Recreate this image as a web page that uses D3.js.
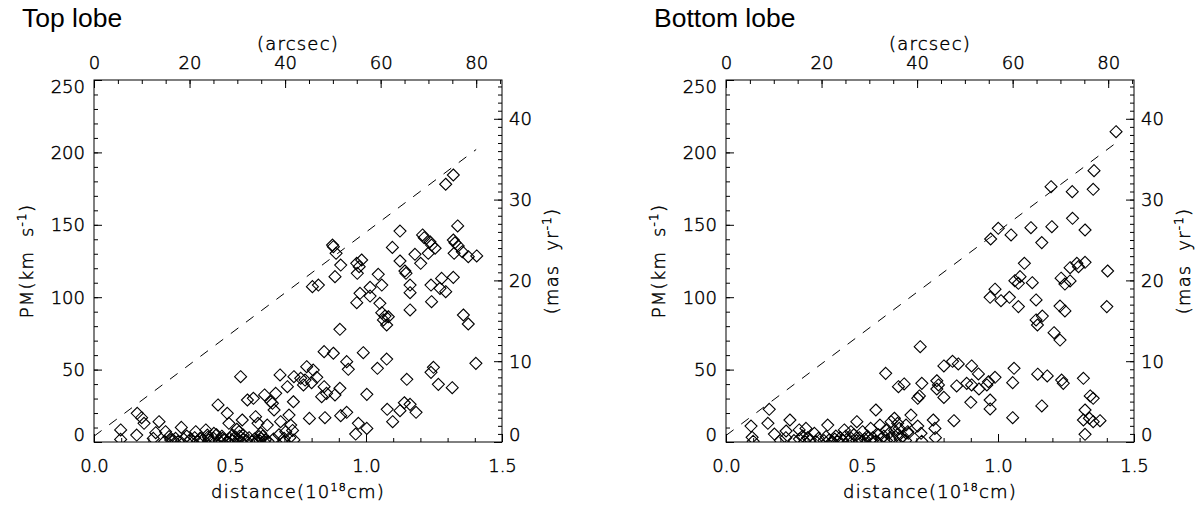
<!DOCTYPE html>
<html><head><meta charset="utf-8">
<script src="https://cdn.jsdelivr.net/npm/d3@7"></script>
<style>
html,body{margin:0;padding:0;background:#fff;}
svg{display:block;}
.tk text{font-family:"DejaVu Sans",sans-serif;font-weight:200;font-size:18px;fill:#000;stroke:#000;stroke-width:0.45px;}
.tk line{stroke:#000;stroke-width:1;}
.lab{font-family:"DejaVu Sans",sans-serif;font-weight:200;font-size:18px;fill:#000;stroke:#000;stroke-width:0.45px;letter-spacing:1.2px;}
.ttl{font-family:"Liberation Sans",Arial,sans-serif;font-size:26.5px;fill:#000;}
</style></head><body>
<svg id="c" width="1198" height="506"></svg>
<script>
// ---------- data ----------
const panelTitles = ["Top lobe", "Bottom lobe"];
const distTicks = [0.0, 0.5, 1.0, 1.5];
const pmTicks = [0, 50, 100, 150, 200, 250];
const arcsecTicks = [0, 20, 40, 60, 80];
const masTicks = [0, 10, 20, 30, 40];
const arcsecAtMaxDist = 85.4;   // arcsec corresponding to 1.5e18 cm
const masAtMaxPM = 44.8;        // mas/yr corresponding to 250 km/s

const topLobeLine = [[0.0, 4.0], [1.405, 202]];
const bottomLobeLine = [[0.0, 4.5], [1.43, 206]];

const topLobePoints = [
[1.321,184.4],[1.293,178.0],[1.337,149.2],[1.125,145.7],[1.208,143.0],[1.214,141.1],[1.235,138.3],[1.241,136.0],[1.254,133.8],[1.321,139.5],
[1.327,137.6],[1.339,135.4],[1.354,131.4],[1.324,130.3],[1.376,128.0],[1.407,128.5],[1.229,130.3],[1.180,129.6],[1.097,134.4],[0.877,136.0],
[0.880,134.9],[0.890,130.3],[0.907,122.2],[0.886,114.2],[0.966,123.4],[0.984,125.7],[0.975,121.1],[0.968,116.5],[1.045,115.8],[1.125,125.0],
[1.143,118.1],[1.147,116.5],[1.201,123.4],[0.803,107.3],[0.825,108.4],[1.015,106.8],[1.058,108.4],[0.978,102.7],[1.015,100.8],[0.966,96.2],
[1.051,95.8],[1.058,89.3],[1.070,87.0],[1.082,86.5],[1.064,84.3],[1.076,80.8],[1.162,108.4],[1.162,103.1],[1.162,91.2],[1.239,108.4],
[1.278,113.0],[1.321,113.7],[1.272,106.1],[1.293,103.8],[1.241,96.9],[1.358,87.7],[1.376,81.5],[0.904,77.8],[0.846,62.4],[0.880,61.3],
[0.990,61.7],[1.076,57.3],[0.929,55.5],[0.935,50.2],[1.042,50.9],[0.782,52.0],[0.806,49.7],[0.819,44.7],[0.776,42.8],[0.800,41.0],
[0.770,39.4],[1.248,51.6],[1.239,48.1],[1.404,54.3],[1.150,43.3],[1.266,39.8],[1.317,37.5],[0.846,38.2],[0.855,33.6],[0.837,31.3],
[0.886,32.5],[0.904,37.1],[1.003,32.9],[0.792,16.3],[0.849,16.8],[0.907,18.2],[0.929,20.5],[0.972,12.9],[0.962,5.5],[1.003,9.4],
[1.078,22.6],[1.098,14.0],[1.125,21.6],[1.141,27.1],[1.162,26.0],[1.184,20.5],
[0.098,8.3],[0.098,1.8],[0.157,4.8],[0.159,19.8],[0.175,16.8],[0.184,12.9],[0.227,6.4],[0.239,14.0],[0.218,2.5],[0.263,7.1],
[0.276,3.7],[0.282,1.4],[0.300,2.5],[0.321,10.1],[0.341,4.1],[0.355,1.8],[0.374,7.1],[0.390,2.5],[0.411,8.3],[0.417,4.8],
[0.423,1.4],[0.441,6.0],[0.456,25.6],[0.472,2.5],[0.490,19.8],[0.496,12.9],[0.509,4.8],[0.525,8.8],[0.533,7.1],[0.539,45.1],
[0.545,15.2],[0.549,4.8],[0.564,29.0],[0.586,30.2],[0.594,17.5],[0.603,12.9],[0.607,3.7],[0.613,6.0],[0.627,32.5],[0.637,11.7],
[0.650,27.8],[0.656,26.7],[0.662,22.1],[0.668,33.6],[0.684,46.3],[0.686,14.0],[0.705,7.1],[0.711,38.2],[0.717,18.6],[0.723,11.7],
[0.733,27.8],[0.735,45.1],[0.699,2.5],[0.735,1.4],[0.760,44.0],
[0.26,0.5],[0.29,1.5],[0.31,0.5],[0.33,2],[0.35,0.8],[0.37,3],[0.38,0.5],[0.40,1.5],[0.42,3.5],[0.43,0.8],
[0.44,2.5],[0.45,5],[0.46,1],[0.47,4],[0.48,1.5],[0.49,0.5],[0.50,2.5],[0.51,1],[0.52,3.5],[0.53,1.5],
[0.535,4],[0.54,0.5],[0.55,2],[0.56,1],[0.57,3],[0.58,0.5],[0.59,2],[0.60,1],[0.61,0.8],[0.615,2.5],
[0.62,4],[0.63,1.5],[0.64,0.5],[0.66,2],[0.68,5],[0.70,0.5],[0.72,3],[0.73,8]
];

const bottomLobePoints = [
[1.434,214.3],[1.353,187.4],[1.350,174.5],[1.273,172.9],[1.195,176.3],[1.274,154.5],[1.320,146.4],[1.198,148.7],[1.121,148.0],[1.161,137.7],
[1.001,147.6],[0.973,140.2],[1.048,143.0],[1.097,123.4],[1.403,118.1],[1.265,120.4],[1.290,123.4],[1.296,121.1],[1.320,124.1],[1.232,113.1],
[1.246,109.1],[1.265,111.2],[1.081,114.2],[1.062,111.4],[1.075,109.6],[1.126,110.0],[0.989,105.5],[0.971,99.9],[1.011,97.6],[1.042,99.9],
[1.075,93.5],[1.140,98.1],[1.228,93.9],[1.246,90.5],[1.400,93.5],[1.163,87.0],[1.140,84.3],[1.145,80.8],[1.206,75.5],[1.228,70.4],
[0.801,52.5],[0.833,55.7],[0.854,53.9],[0.903,52.5],[0.928,47.0],[1.059,50.9],[0.989,44.7],[0.965,41.6],[0.959,39.4],[0.775,42.3],
[0.781,39.4],[0.775,36.6],[0.848,38.7],[0.885,40.5],[0.903,39.4],[0.930,36.6],[1.054,41.0],[1.146,46.8],[1.181,45.6],[1.234,42.8],
[1.240,40.5],[1.314,44.0],[0.801,30.8],[0.900,27.4],[0.971,29.0],[0.971,22.8],[1.161,24.9],[1.339,31.8],[1.350,30.2],[1.320,22.1],
[1.314,15.2],[1.336,16.4],[1.350,14.0],[1.375,14.7],[1.320,5.3],[1.054,16.8],[0.838,14.7],[0.762,15.2],[0.768,9.4],
[0.092,11.0],[0.096,3.2],[0.159,22.6],[0.154,12.9],[0.178,5.5],[0.235,15.2],[0.221,7.6],[0.269,8.3],[0.294,9.4],[0.282,4.1],
[0.325,6.0],[0.374,11.7],[0.368,3.7],[0.404,4.1],[0.435,8.3],[0.459,7.1],[0.481,14.0],[0.502,7.1],[0.532,9.4],[0.551,22.1],
[0.566,11.7],[0.588,8.3],[0.607,14.0],[0.619,16.4],[0.631,12.9],[0.637,9.4],[0.662,11.7],[0.668,7.1],[0.680,18.6],[0.705,11.0],
[0.717,6.0],[0.714,65.8],[0.587,47.4],[0.634,38.2],[0.655,40.1],[0.720,40.5],[0.711,31.8],[0.705,30.2],
[0.10,0.5],[0.20,1],[0.22,3],[0.25,1],[0.27,2],[0.29,0.5],[0.30,3],[0.31,1.5],[0.33,0.5],[0.34,2.5],
[0.36,1],[0.38,1.5],[0.39,0.5],[0.40,2],[0.41,0.5],[0.42,3],[0.43,1],[0.44,4],[0.45,0.8],[0.46,2.5],
[0.47,5],[0.48,1],[0.49,3],[0.50,0.5],[0.51,2],[0.52,4],[0.53,1],[0.54,3],[0.55,0.5],[0.56,5],
[0.57,2],[0.58,4],[0.59,1],[0.60,6],[0.61,3],[0.62,8],[0.63,5],[0.64,2],[0.65,4],[0.66,1],
[0.67,6],[0.77,3],[0.72,0.5]
];

// ---------- drawing ----------
const svg = d3.select("#c");
const PW = 408, TOP = 80, BOT = 442;
const panels = [
  {title: panelTitles[0], x0: 94, pts: topLobePoints, line: topLobeLine},
  {title: panelTitles[1], x0: 726, pts: bottomLobePoints, line: bottomLobeLine}
];

panels.forEach((p, i) => {
  const g = svg.append("g");
  const x = d3.scaleLinear().domain([0, 1.5]).range([p.x0, p.x0 + PW]);
  const y = d3.scaleLinear().domain([0, 250]).range([BOT, TOP]);
  const xa = d3.scaleLinear().domain([0, arcsecAtMaxDist]).range([p.x0, p.x0 + PW]);
  const ym = d3.scaleLinear().domain([0, masAtMaxPM]).range([BOT, TOP]);

  const clipId = "clip" + i;
  svg.append("clipPath").attr("id", clipId).append("rect")
    .attr("x", p.x0).attr("y", TOP).attr("width", PW).attr("height", BOT - TOP);

  // minor ticks
  const minor = (axis, pos) => {
    const ax = g.append("g").attr("class", "tk").attr("transform", pos).call(axis);
    ax.select(".domain").remove();
    ax.selectAll("text").remove();
  };
  minor(d3.axisBottom(x).tickValues(d3.range(0, 1.5001, 0.1)).tickSizeInner(-4).tickSizeOuter(0), `translate(0,${BOT})`);
  minor(d3.axisTop(xa).tickValues(d3.range(0, arcsecAtMaxDist, 5)).tickSizeInner(-4).tickSizeOuter(0), `translate(0,${TOP})`);
  minor(d3.axisLeft(y).tickValues(d3.range(0, 250.1, 10)).tickSizeInner(-4).tickSizeOuter(0), `translate(${p.x0},0)`);
  minor(d3.axisRight(ym).tickValues(d3.range(0, masAtMaxPM, 1)).tickSizeInner(-4).tickSizeOuter(0), `translate(${p.x0 + PW},0)`);

  // major axes
  const bx = g.append("g").attr("class", "tk").attr("transform", `translate(0,${BOT})`)
    .call(d3.axisBottom(x).tickValues(distTicks).tickFormat(d3.format(".1f")).tickSizeInner(-8).tickSizeOuter(0));
  bx.select(".domain").remove();
  bx.selectAll("text").attr("y", 30).attr("dy", 0);

  const tx = g.append("g").attr("class", "tk").attr("transform", `translate(0,${TOP})`)
    .call(d3.axisTop(xa).tickValues(arcsecTicks).tickFormat(d3.format("d")).tickSizeInner(-8).tickSizeOuter(0));
  tx.select(".domain").remove();
  tx.selectAll("text").attr("y", -11).attr("dy", 0);

  const ly = g.append("g").attr("class", "tk").attr("transform", `translate(${p.x0},0)`)
    .call(d3.axisLeft(y).tickValues(pmTicks).tickFormat(d3.format("d")).tickSizeInner(-8).tickSizeOuter(0));
  ly.select(".domain").remove();
  ly.selectAll("text").attr("x", -9).attr("dy", d => d === 0 ? "-0.08em" : (d === 250 ? "0.72em" : "0.34em"));

  const ry = g.append("g").attr("class", "tk").attr("transform", `translate(${p.x0 + PW},0)`)
    .call(d3.axisRight(ym).tickValues(masTicks).tickFormat(d3.format("d")).tickSizeInner(-8).tickSizeOuter(0));
  ry.select(".domain").remove();
  ry.selectAll("text").attr("x", 7).attr("dy", d => d === 0 ? "-0.08em" : "0.34em");

  // frame
  g.append("rect").attr("x", p.x0).attr("y", TOP).attr("width", PW).attr("height", BOT - TOP)
    .attr("fill", "none").attr("stroke", "#000").attr("stroke-width", 1);

  // dashed line
  g.append("path").attr("clip-path", `url(#${clipId})`)
    .attr("d", d3.line().x(d => x(d[0])).y(d => y(d[1]))(p.line))
    .attr("fill", "none").attr("stroke", "#000").attr("stroke-width", 1)
    .attr("stroke-dasharray", "9.5,9.5");

  // diamonds
  const diamond = "M0,-6L6,0L0,6L-6,0Z";
  g.append("g").attr("clip-path", `url(#${clipId})`)
    .selectAll("path").data(p.pts).join("path")
    .attr("d", diamond)
    .attr("transform", d => `translate(${x(d[0])},${y(d[1])})`)
    .attr("fill", "none").attr("stroke", "#000").attr("stroke-width", 1.1);

  // titles & labels
  g.append("text").attr("class", "ttl").attr("x", p.x0 - 72).attr("y", 27).text(p.title);

  g.append("text").attr("class", "lab").attr("x", p.x0 + PW / 2).attr("y", 50)
    .attr("text-anchor", "middle").text("(arcsec)");

  const bl = g.append("text").attr("class", "lab").attr("x", p.x0 + PW / 2).attr("y", 498)
    .attr("text-anchor", "middle");
  bl.append("tspan").text("distance(10");
  bl.append("tspan").attr("font-size", "11px").attr("dy", -7).text("18");
  bl.append("tspan").attr("dy", 7).text("cm)");

  const yl = g.append("text").attr("class", "lab")
    .attr("transform", `translate(${p.x0 - 61},${(TOP + BOT) / 2}) rotate(-90)`)
    .attr("text-anchor", "middle");
  yl.append("tspan").text("PM(km\u00a0\u00a0s");
  yl.append("tspan").attr("font-size", "12px").attr("dy", -7).text("-1");
  yl.append("tspan").attr("dy", 7).text(")");

  const rl = g.append("text").attr("class", "lab")
    .attr("transform", `translate(${p.x0 + PW + 56},${(TOP + BOT) / 2}) rotate(-90)`)
    .attr("text-anchor", "middle");
  rl.append("tspan").text("(mas\u00a0\u00a0yr");
  rl.append("tspan").attr("font-size", "12px").attr("dy", -7).text("-1");
  rl.append("tspan").attr("dy", 7).text(")");
});
</script>
</body></html>
